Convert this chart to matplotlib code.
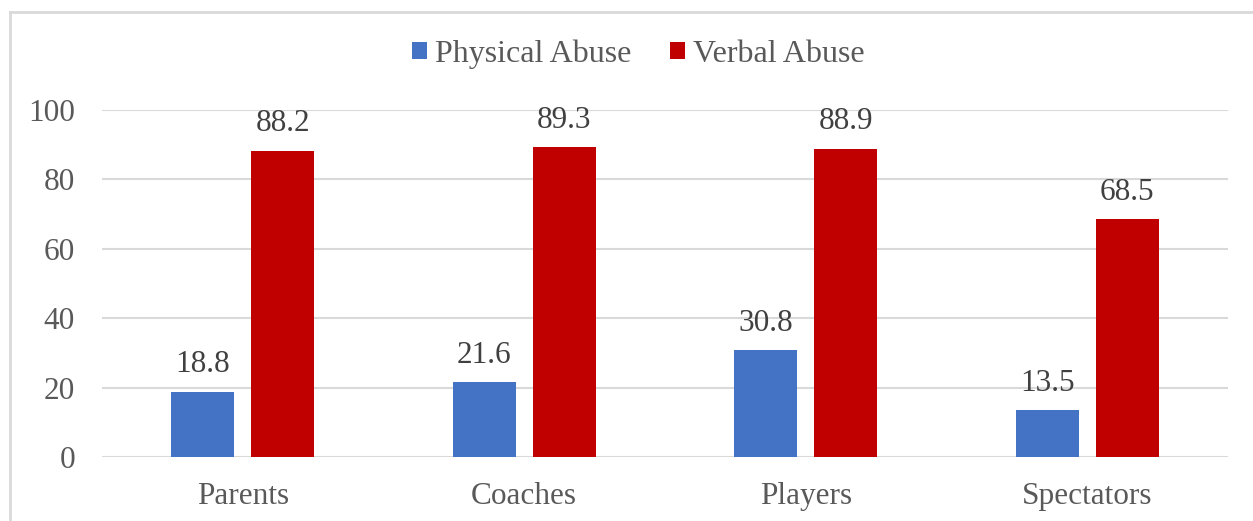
import matplotlib
matplotlib.use("Agg")
import matplotlib.pyplot as plt
import numpy as np
from matplotlib.lines import Line2D

categories = ["Parents", "Coaches", "Players", "Spectators"]
physical = [18.8, 21.6, 30.8, 13.5]
verbal = [88.2, 89.3, 88.9, 68.5]
series_names = ["Physical Abuse", "Verbal Abuse"]
yticks = [0, 20, 40, 60, 80, 100]

BLUE = "#4472C4"
RED = "#C00000"
TICK_COLOR = "#595959"
LABEL_COLOR = "#404040"
GRID_COLOR = "#D9D9D9"

plt.rcParams["font.family"] = ["Liberation Serif", "DejaVu Serif"]

fig = plt.figure(figsize=(12.53, 5.21), dpi=100)
ax = fig.add_axes([102 / 1253, 1 - 457 / 521, (1228 - 102) / 1253, (457 - 110) / 521])

x = np.arange(len(categories))
width = 0.224
offset = 0.142

bars_p = ax.bar(x - offset, physical, width, color=BLUE, label=series_names[0], zorder=3)
bars_v = ax.bar(x + offset, verbal, width, color=RED, label=series_names[1], zorder=3)

for bars, vals in ((bars_p, physical), (bars_v, verbal)):
    for b, v in zip(bars, vals):
        ax.annotate(f"{v:.1f}", (b.get_x() + b.get_width() / 2, v),
                    xytext=(0, 9), textcoords="offset points",
                    ha="center", va="bottom", fontsize=22.5, color=LABEL_COLOR)

ax.set_xlim(-0.5, len(categories) - 0.5)
ax.set_ylim(0, 100)
ax.set_yticks(yticks)
ax.set_xticks(x)
ax.set_xticklabels(categories)
ax.tick_params(axis="both", length=0, labelsize=22.5, colors=TICK_COLOR)
ax.tick_params(axis="y", pad=19.5)
ax.tick_params(axis="x", pad=18)
ax.yaxis.grid(True, color=GRID_COLOR, linewidth=1.5, zorder=0)
ax.set_axisbelow(True)
for s in ax.spines.values():
    s.set_visible(False)

leg = fig.legend(loc="center", bbox_to_anchor=(0.5 + 12 / 1253, 1 - 54 / 521), ncol=2,
                 frameon=False, fontsize=23, handlelength=0.47, handleheight=0.47,
                 handletextpad=0.25, columnspacing=1.22)
for t in leg.get_texts():
    t.set_color(TICK_COLOR)

# frame edges of the chart area
x0 = 9.5 / 1253
y0 = 1 - 11.5 / 521
fig.add_artist(Line2D([x0, x0], [0, y0], color=GRID_COLOR, linewidth=2))
fig.add_artist(Line2D([x0, 1], [y0, y0], color=GRID_COLOR, linewidth=2))

fig.savefig("out.png", dpi=100, facecolor="white")
